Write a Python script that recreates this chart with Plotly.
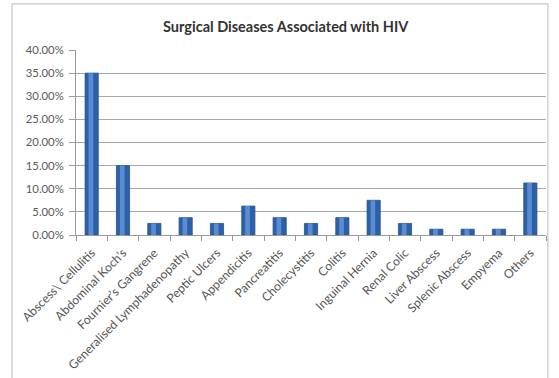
import plotly.graph_objects as go

# Share of surgical diseases among HIV patients
categories = [
    "Abscess\\ Cellulitis",
    "Abdominal Koch’s",
    "Fournier’s Gangrene",
    "Generalised Lymphadenopathy",
    "Peptic Ulcers",
    "Appendicitis",
    "Pancreatitis",
    "Cholecystitis",
    "Colitis",
    "Inguinal Hernia",
    "Renal Colic",
    "Liver Abscess",
    "Splenic Abscess",
    "Empyema",
    "Others",
]
shares = [0.35, 0.15, 0.025, 0.0375, 0.025, 0.0625, 0.0375, 0.025,
          0.0375, 0.075, 0.025, 0.0125, 0.0125, 0.0125, 0.1125]
y_ticks = [0.0, 0.05, 0.10, 0.15, 0.20, 0.25, 0.30, 0.35, 0.40]

FONT = "Lato, 'Liberation Sans', sans-serif"

fig = go.Figure()
# main cylinder body
fig.add_trace(go.Bar(
    x=categories, y=shares, width=0.42,
    marker=dict(color="#2C60A8", line=dict(color="#24508E", width=0.8)),
    hoverinfo="x+y",
))
# lighter highlight stripe along each bar
fig.add_trace(go.Bar(
    x=categories, y=shares, width=0.15, offset=-0.1,
    marker=dict(color="#5A8CD0", line=dict(width=0)),
    hoverinfo="skip",
))

fig.update_layout(
    width=559, height=378,
    margin=dict(l=76, r=13, t=50, b=143),
    paper_bgcolor="white", plot_bgcolor="white",
    showlegend=False, barmode="overlay",
    font=dict(family=FONT, color="#555555"),
    title=dict(
        text="<b>Surgical Diseases Associated with HIV</b>",
        x=0.511, xanchor="center", y=0.93, yanchor="middle",
        font=dict(size=14.5, color="#333333", family=FONT),
    ),
    xaxis=dict(
        type="category", tickangle=-45, tickson="boundaries",
        ticks="outside", ticklen=5, tickcolor="#9A9A9A",
        ticklabelstandoff=5,
        showline=True, linecolor="#9A9A9A", linewidth=1,
        showgrid=False, automargin=False,
        tickfont=dict(size=12.2, color="#555555", family=FONT),
    ),
    yaxis=dict(
        range=[0, 0.40], tickvals=y_ticks, tickformat=".2%",
        ticks="outside", ticklen=6, tickcolor="#9A9A9A",
        ticklabelstandoff=3, automargin=False,
        showline=True, linecolor="#9A9A9A", linewidth=1,
        showgrid=True, gridcolor="#A8A8A8", gridwidth=1.4,
        zeroline=False,
        tickfont=dict(size=11.3, color="#595959", family=FONT),
    ),
    shapes=[dict(
        type="rect", xref="paper", yref="paper",
        x0=-0.136, x1=1.004, y0=-0.8, y1=1.249,
        line=dict(color="#C8C8C8", width=1.2), fillcolor="rgba(0,0,0,0)",
        layer="below",
    )],
)

fig.write_html("out.html")
